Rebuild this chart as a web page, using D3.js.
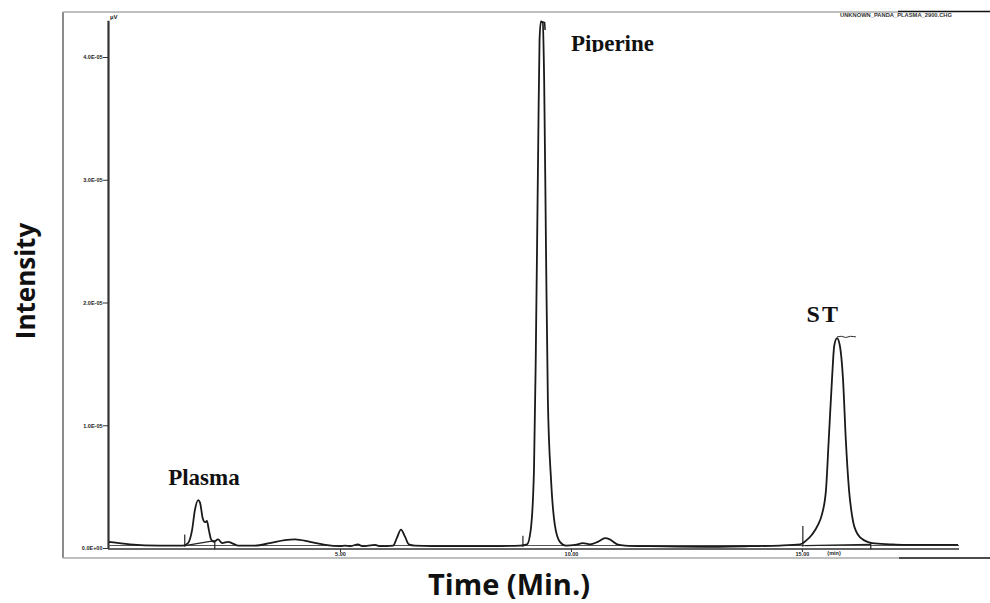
<!DOCTYPE html>
<html><head><meta charset="utf-8">
<script src="https://cdn.jsdelivr.net/npm/d3@7"></script>
<style>body{margin:0;background:#fff}svg{display:block}</style>
</head><body>
<svg id="chart" width="990" height="603"></svg>
<script>
// ---- data (intensity in units of 1E-05) ----
const timeMin = [0.00,0.45,1.10,1.60,1.71,1.80,1.86,1.93,1.97,2.03,2.08,2.12,2.16,2.21,2.27,2.36,2.45,2.58,2.66,2.79,3.16,3.48,3.81,4.03,4.35,4.68,5.00,5.11,5.22,5.39,5.48,5.76,5.87,6.15,6.23,6.32,6.41,6.49,6.62,7.38,8.25,8.90,9.05,9.13,9.20,9.24,9.29,9.32,9.35,9.39,9.42,9.46,9.50,9.57,9.65,9.76,9.89,10.09,10.26,10.41,10.58,10.74,10.84,11.00,11.17,11.71,12.79,13.87,14.52,14.96,15.09,15.22,15.35,15.43,15.52,15.58,15.65,15.70,15.76,15.82,15.89,15.95,16.02,16.10,16.21,16.36,16.52,16.90,17.23,17.77,18.38];
const intensity = [0.05,0.03,0.02,0.02,0.04,0.15,0.31,0.39,0.37,0.24,0.21,0.22,0.15,0.07,0.05,0.07,0.04,0.05,0.04,0.02,0.02,0.04,0.065,0.07,0.05,0.025,0.015,0.02,0.015,0.03,0.015,0.025,0.015,0.02,0.08,0.15,0.09,0.03,0.02,0.015,0.015,0.02,0.03,0.15,0.64,1.61,3.24,4.14,4.29,4.28,3.81,2.43,1.21,0.55,0.19,0.05,0.02,0.025,0.04,0.03,0.05,0.08,0.07,0.03,0.02,0.015,0.01,0.015,0.02,0.03,0.06,0.11,0.19,0.27,0.47,0.88,1.37,1.65,1.71,1.65,1.37,0.88,0.47,0.23,0.11,0.06,0.04,0.03,0.025,0.025,0.025];

// integration baselines [t0, i0, t1, i1]
const baseT0 = [1.64, 15.06];
const baseI0 = [0.02, 0.02];
const baseT1 = [2.29, 16.49];
const baseI1 = [0.06, 0.03];

// event markers: time, top, bottom (1E-05 units)
const markT = [1.64, 2.29, 8.96, 15.02, 16.49];
const markTop = [0.11, 0.06, 0.10, 0.18, 0.04];
const markBot = [0.01, -0.01, 0.01, 0.01, -0.01];

const yTickValues = [0, 1, 2, 3, 4];
const yTickLabels = ["0.0E+00", "1.0E-05", "2.0E-05", "3.0E-05", "4.0E-05"];
const xTickValues = [5, 10, 15];
const xTickLabels = ["5.00", "10.00", "15.00"];

const peakNames = ["Plasma", "Piperine", "ST"];
const peakLabelT = [1.28, 10.0, 15.1];
const peakLabelI = [0.51, 4.05, 1.84];

// ---- drawing ----
const svg = d3.select("#chart");
const x = d3.scaleLinear().domain([0, 18.4]).range([109, 959]);
const y = d3.scaleLinear().domain([0, 4.3]).range([548, 20.2]);

// outer frame
svg.append("line").attr("x1", 63).attr("x2", 63).attr("y1", 12).attr("y2", 558).attr("stroke", "#666").attr("stroke-width", 1.5);
svg.append("line").attr("x1", 63).attr("x2", 898).attr("y1", 12).attr("y2", 12).attr("stroke", "#aaa").attr("stroke-width", 1.5);
svg.append("line").attr("x1", 898).attr("x2", 990).attr("y1", 11.5).attr("y2", 11.5).attr("stroke", "#111").attr("stroke-width", 1.5);
svg.append("line").attr("x1", 63).attr("x2", 899).attr("y1", 558).attr("y2", 558).attr("stroke", "#aaa").attr("stroke-width", 1.5);
svg.append("line").attr("x1", 899).attr("x2", 990).attr("y1", 558).attr("y2", 558).attr("stroke", "#111").attr("stroke-width", 1.5);

// y axis
const yAxis = d3.axisLeft(y).tickValues(yTickValues).tickFormat((d, i) => yTickLabels[i]).tickSize(5).tickSizeOuter(0);
const gy = svg.append("g").attr("transform", "translate(108,0)").call(yAxis);
gy.select(".domain").attr("stroke", "#333").attr("stroke-width", 2.2);
gy.selectAll(".tick line").attr("stroke", "#333").attr("stroke-width", 1);
gy.selectAll(".tick text").attr("font-family", "Liberation Sans, Arial, sans-serif").attr("font-size", 5.5).attr("font-weight", "bold").attr("fill", "#222").attr("x", -5.5);

// x axis (double line)
svg.append("line").attr("x1", 108).attr("x2", 959).attr("y1", 545.5).attr("y2", 545.5).attr("stroke", "#555").attr("stroke-width", 1);
const xAxis = d3.axisBottom(x).tickValues(xTickValues).tickFormat((d, i) => xTickLabels[i]).tickSize(3).tickSizeOuter(0);
const gx = svg.append("g").attr("transform", "translate(0,549)").call(xAxis);
gx.select(".domain").attr("stroke", "#333").attr("stroke-width", 1.3).attr("d", `M108,0H959`);
gx.selectAll(".tick line").attr("stroke", "#333");
gx.selectAll(".tick text").attr("font-family", "Liberation Sans, Arial, sans-serif").attr("font-size", 5.5).attr("font-weight", "bold").attr("fill", "#222").attr("y", 3).attr("dy", "0.71em");
svg.append("text").attr("x", x(15.55)).attr("y", 555).attr("font-family", "Liberation Sans, Arial, sans-serif").attr("font-size", 5.5).attr("font-weight", "bold").attr("fill", "#222").text("(min)");

// unit label & file name
svg.append("text").attr("x", 110).attr("y", 19).attr("font-family", "Liberation Sans, Arial, sans-serif").attr("font-size", 6).attr("font-weight", "bold").attr("fill", "#222").text("µV");
svg.append("text").attr("x", 840).attr("y", 17).attr("font-family", "Liberation Sans, Arial, sans-serif").attr("font-size", 5.5).attr("font-weight", "bold").attr("fill", "#333").attr("textLength", 112).attr("lengthAdjust", "spacingAndGlyphs").text("UNKNOWN_PANDA_PLASMA_2900.CHG");

// integration baselines
baseT0.forEach((t, i) => {
  svg.append("line").attr("x1", x(t)).attr("y1", y(baseI0[i])).attr("x2", x(baseT1[i])).attr("y2", y(baseI1[i])).attr("stroke", "#222").attr("stroke-width", 1.2);
});
// markers
markT.forEach((t, i) => {
  svg.append("line").attr("x1", x(t)).attr("x2", x(t)).attr("y1", y(markTop[i])).attr("y2", y(markBot[i])).attr("stroke", "#222").attr("stroke-width", 1.2);
});

// trace
const pts = timeMin.map((t, i) => [t, intensity[i]]);
const line = d3.line().x(d => x(d[0])).y(d => y(d[1])).curve(d3.curveMonotoneX);
svg.append("path").datum(pts).attr("d", line).attr("fill", "none").attr("stroke", "#1a1a1a").attr("stroke-width", 1.8).attr("stroke-linejoin", "round");

// peak-top flags
svg.append("path").attr("d", `M${x(9.35)},${y(4.29)}L${x(9.43)},${y(4.28)}L${x(9.44)},${y(4.22)}`).attr("fill", "none").attr("stroke", "#1a1a1a").attr("stroke-width", 1.5);
svg.append("path").attr("d", `M${x(15.76)},${y(1.72)}L${x(15.85)},${y(1.725)}L${x(15.95)},${y(1.715)}L${x(16.05)},${y(1.725)}L${x(16.17)},${y(1.72)}`).attr("fill", "none").attr("stroke", "#333").attr("stroke-width", 1);

// peak labels
const defs = svg.append("defs");
defs.append("clipPath").attr("id", "clipPip").append("rect").attr("x", 0).attr("y", 0).attr("width", 990).attr("height", 52);
peakNames.forEach((n, i) => {
  const t = svg.append("text").attr("x", x(peakLabelT[i])).attr("y", y(peakLabelI[i]))
    .attr("font-family", "Liberation Serif, 'Times New Roman', serif").attr("font-weight", "bold")
    .attr("font-size", n === "ST" ? 24 : 23).attr("fill", "#111").text(n);
  if (n === "Piperine") t.attr("clip-path", "url(#clipPip)");
  if (n === "ST") t.attr("letter-spacing", 2);
});

// axis titles
svg.append("text").attr("x", 509).attr("y", 595).attr("text-anchor", "middle")
  .attr("font-family", "'Open Sans', sans-serif").attr("font-weight", "bold").attr("font-size", 29).attr("fill", "#111").text("Time (Min.)");
svg.append("text").attr("transform", "translate(35,281) rotate(-90)").attr("text-anchor", "middle")
  .attr("font-family", "'Open Sans', sans-serif").attr("font-weight", "bold").attr("font-size", 26).attr("fill", "#111").text("Intensity");
</script>
</body></html>
